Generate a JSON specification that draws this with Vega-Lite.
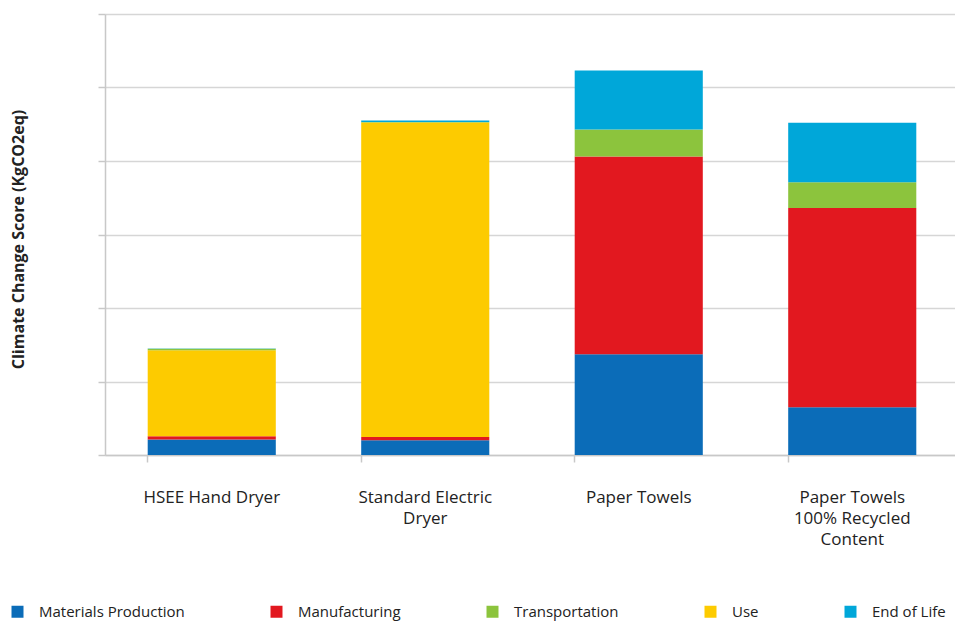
{
  "$schema": "https://vega.github.io/schema/vega-lite/v6.json",
  "width": 854,
  "height": 441,
  "autosize": {"type": "none"},
  "padding": {"left": 105, "top": 14, "right": 0, "bottom": 166},
  "background": "white",
  "config": {
    "font": "Open Sans",
    "view": {"stroke": null}
  },
  "data": {
    "values": [
      {"product": "HSEE Hand Dryer", "stage": "Materials Production", "k": 1, "score": 0.21},
      {"product": "HSEE Hand Dryer", "stage": "Manufacturing", "k": 2, "score": 0.045},
      {"product": "HSEE Hand Dryer", "stage": "Use", "k": 3, "score": 1.17},
      {"product": "HSEE Hand Dryer", "stage": "Transportation", "k": 4, "score": 0.02},
      {"product": "HSEE Hand Dryer", "stage": "End of Life", "k": 5, "score": 0.005},
      {"product": "Standard Electric Dryer", "stage": "Materials Production", "k": 1, "score": 0.2},
      {"product": "Standard Electric Dryer", "stage": "Manufacturing", "k": 2, "score": 0.045},
      {"product": "Standard Electric Dryer", "stage": "Use", "k": 3, "score": 4.28},
      {"product": "Standard Electric Dryer", "stage": "Transportation", "k": 4, "score": 0.005},
      {"product": "Standard Electric Dryer", "stage": "End of Life", "k": 5, "score": 0.02},
      {"product": "Paper Towels", "stage": "Materials Production", "k": 1, "score": 1.37},
      {"product": "Paper Towels", "stage": "Manufacturing", "k": 2, "score": 2.69},
      {"product": "Paper Towels", "stage": "Use", "k": 3, "score": 0},
      {"product": "Paper Towels", "stage": "Transportation", "k": 4, "score": 0.37},
      {"product": "Paper Towels", "stage": "End of Life", "k": 5, "score": 0.8},
      {"product": "Paper Towels 100% Recycled Content", "stage": "Materials Production", "k": 1, "score": 0.65},
      {"product": "Paper Towels 100% Recycled Content", "stage": "Manufacturing", "k": 2, "score": 2.71},
      {"product": "Paper Towels 100% Recycled Content", "stage": "Use", "k": 3, "score": 0},
      {"product": "Paper Towels 100% Recycled Content", "stage": "Transportation", "k": 4, "score": 0.35},
      {"product": "Paper Towels 100% Recycled Content", "stage": "End of Life", "k": 5, "score": 0.81}
    ]
  },
  "mark": {"type": "bar"},
  "encoding": {
    "x": {
      "field": "product",
      "type": "nominal",
      "sort": null,
      "scale": {"paddingInner": 0.4, "paddingOuter": 0.2},
      "axis": {
        "title": null,
        "labelAngle": 0,
        "bandPosition": 0,
        "domainColor": "#c8c8c8",
        "domainWidth": 1.5,
        "tickColor": "#c8c8c8",
        "tickWidth": 1.5,
        "tickSize": 7,
        "labelFontSize": 17,
        "labelColor": "#222222",
        "labelPadding": 27,
        "labelLineHeight": 21,
        "labelBaseline": "top",
        "labelExpr": "datum.label == 'Standard Electric Dryer' ? ['Standard Electric', 'Dryer'] : datum.label == 'Paper Towels 100% Recycled Content' ? ['Paper Towels', '100% Recycled', 'Content'] : datum.label"
      }
    },
    "y": {
      "field": "score",
      "type": "quantitative",
      "stack": "zero",
      "scale": {"domain": [0, 6], "nice": false},
      "axis": {
        "title": "Climate Change Score (KgCO2eq)",
        "titleFontSize": 16,
        "titleFontWeight": "bold",
        "titleColor": "#222222",
        "titleX": -87,
        "titleY": 225,
        "titleAngle": -90,
        "titleAlign": "center",
        "titleBaseline": "middle",
        "labels": false,
        "values": [0, 1, 2, 3, 4, 5, 6],
        "tickSize": 7,
        "tickColor": "#c8c8c8",
        "tickWidth": 1.5,
        "domainColor": "#c8c8c8",
        "domainWidth": 1.5,
        "grid": true,
        "gridColor": "#d6d6d6",
        "gridWidth": 1.5
      }
    },
    "color": {
      "field": "stage",
      "type": "nominal",
      "scale": {
        "domain": ["Materials Production", "Manufacturing", "Transportation", "Use", "End of Life"],
        "range": ["#0b6cb8", "#e2181f", "#8cc43d", "#fdcb00", "#00a7d9"]
      },
      "legend": {
        "title": null,
        "orient": "none",
        "direction": "horizontal",
        "legendX": -95,
        "legendY": 590,
        "symbolType": "square",
        "symbolSize": 144,
        "symbolStrokeWidth": 0,
        "labelOffset": 14,
        "labelFontSize": 15,
        "labelColor": "#222222",
        "columnPadding": 84,
        "labelLimit": 300
      }
    },
    "order": {"field": "k", "type": "quantitative"}
  }
}
